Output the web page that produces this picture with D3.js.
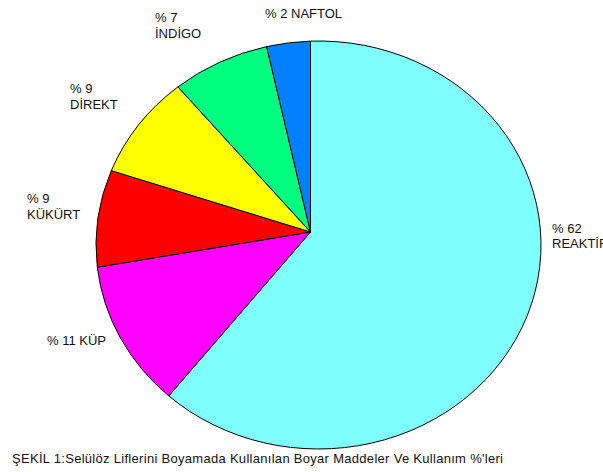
<!DOCTYPE html>
<html>
<head>
<meta charset="utf-8">
<script src="https://cdn.jsdelivr.net/npm/d3@7"></script>
<style>
html,body{margin:0;padding:0;background:#fff;}
svg{display:block;}
text{font-family:"Liberation Sans",Arial,sans-serif;fill:#111;}
</style>
</head>
<body>
<svg id="chart" width="603" height="472"></svg>
<script>
// Data (slice order clockwise from 12 o'clock)
const categories = ["REAKTİF", "KÜP", "KÜKÜRT", "DİREKT", "İNDİGO", "NAFTOL"];
const values = [60.7, 11.5, 8.0, 8.75, 7.7, 3.4];          // slice sizes as drawn
const percentLabels = ["% 62", "% 11", "% 9", "% 9", "% 7", "% 2"]; // printed labels
const colors = ["#80FFFF", "#FF00FF", "#FF0000", "#FFFF00", "#00FF80", "#0080FF"];
const caption = "ŞEKİL 1:Selülöz Liflerini Boyamada Kullanılan Boyar Maddeler Ve Kullanım %'leri";

// Layout
const W = 603, H = 472;
const ell = {cx: 318.5, cy: 245, rx: 222.5, ry: 204};
const apex = {x: 310.5, y: 232};
// label layout: x, baselines, single-line flag
const labelLayout = [
  {x: 552, y: [233, 248], inline: false},
  {x: 47,  y: [345],      inline: true},
  {x: 27,  y: [203, 219], inline: false},
  {x: 70,  y: [93, 109],  inline: false},
  {x: 155, y: [22, 38],   inline: false},
  {x: 265, y: [18],       inline: true}
];

const svg = d3.select("#chart");

const pie = d3.pie().sort(null).value(d => d.v);
const arcs = pie(values.map((v, i) => ({v, i})));

const u = (apex.x - ell.cx) / ell.rx, w = (apex.y - ell.cy) / ell.ry;
function rim(theta) {
  const s = Math.sin(theta), c = Math.cos(theta);
  const b = u * s - w * c;
  const cc = u * u + w * w - 1;
  const t = -b + Math.sqrt(b * b - cc);
  return [ell.cx + ell.rx * (u + t * s), ell.cy + ell.ry * (w - t * c)];
}
function param(p) {
  return Math.atan2((p[1] - ell.cy) / ell.ry, (p[0] - ell.cx) / ell.rx);
}
function slicePath(a) {
  const p1 = rim(a.startAngle), p2 = rim(a.endAngle);
  let d = param(p2) - param(p1);
  while (d < 0) d += 2 * Math.PI;
  const large = d > Math.PI ? 1 : 0;
  return `M${apex.x},${apex.y}L${p1[0]},${p1[1]}A${ell.rx},${ell.ry} 0 ${large} 1 ${p2[0]},${p2[1]}Z`;
}

svg.append("g").selectAll("path")
  .data(arcs)
  .join("path")
  .attr("d", slicePath)
  .attr("fill", d => colors[d.data.i])
  .attr("stroke", "#000")
  .attr("stroke-width", 1)
  .attr("stroke-linejoin", "round");

const lg = svg.append("g").attr("font-size", 13);
labelLayout.forEach((L, i) => {
  const lines = L.inline ? [percentLabels[i] + " " + categories[i]] : [percentLabels[i], categories[i]];
  lines.forEach((txt, j) => {
    lg.append("text").attr("x", L.x).attr("y", L.y[j]).text(txt);
  });
});

svg.append("text")
  .attr("x", 12).attr("y", 463)
  .attr("font-size", 13)
  .attr("textLength", 491)
  .attr("lengthAdjust", "spacing")
  .text(caption);
</script>
</body>
</html>
